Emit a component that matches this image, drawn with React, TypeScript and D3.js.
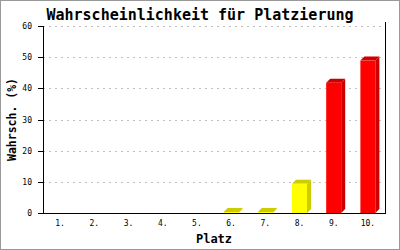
import React from "react";
import * as d3 from "d3";

const categories = ["1.", "2.", "3.", "4.", "5.", "6.", "7.", "8.", "9.", "10."];
const values = [0, 0, 0, 0, 0, 0.3, 0.3, 9.4, 41.8, 48.9];
const barColors = ["#ffff00", "#ffff00", "#ffff00", "#ffff00", "#ffff00", "#ffff00", "#ffff00", "#ffff00", "#ff0000", "#ff0000"];
const darkColors = ["#cccc00", "#cccc00", "#cccc00", "#cccc00", "#cccc00", "#cccc00", "#cccc00", "#cccc00", "#cc0000", "#cc0000"];
const yTicks = [0, 10, 20, 30, 40, 50, 60];
const title = "Wahrscheinlichkeit für Platzierung";
const yLabel = "Wahrsch. (%)";
const xLabel = "Platz";

const W = 400, H = 250;
const left = 43, right = 385, top = 26, bottom = 213;
const depth = 4;
const mono = "'DejaVu Sans Mono', monospace";

export default function App() {
  const x = d3.scaleBand<string>().domain(categories).range([left, right]).paddingInner(0).paddingOuter(0);
  const y = d3.scaleLinear().domain([0, 60]).range([bottom, top]);
  const bw = 15;

  return (
    <div style={{ position: "fixed", left: 0, top: 0 }}>
      <svg width={W} height={H} style={{ display: "block", background: "#fff" }}>
        <rect x={0.5} y={0.5} width={W - 1} height={H - 1} fill="#fff" stroke="#999" strokeWidth={1} />
        <text x={200} y={20} textAnchor="middle" fontFamily={mono} fontWeight="bold" fontSize={15}>{title}</text>
        {yTicks.filter(t => t > 0).map(t => (
          <line key={"g" + t} x1={left} x2={right} y1={Math.round(y(t)) + 0.5} y2={Math.round(y(t)) + 0.5}
            stroke="#c0c0c0" strokeDasharray="2,4" />
        ))}
        {categories.map((c, i) => {
          const v = values[i];
          if (v <= 0) return null;
          const cx = (x(c) as number) + x.bandwidth() / 2;
          const x0 = cx - bw / 2, x1 = cx + bw / 2;
          const yt = y(v), yb = y(0);
          return (
            <g key={c}>
              <polygon points={`${x1},${yb} ${x1 + depth},${yb - depth} ${x1 + depth},${yt - depth} ${x1},${yt}`} fill={darkColors[i]} />
              <polygon points={`${x0},${yt} ${x0 + depth},${yt - depth} ${x1 + depth},${yt - depth} ${x1},${yt}`} fill={darkColors[i]} />
              <rect x={x0} y={yt} width={bw} height={yb - yt} fill={barColors[i]} />
            </g>
          );
        })}
        <line x1={left + 0.5} x2={left + 0.5} y1={top} y2={bottom + 0.5} stroke="#000" />
        <line x1={right + 0.5} x2={right + 0.5} y1={top - 4} y2={bottom + 0.5} stroke="#000" />
        <line x1={left} x2={right + 1} y1={bottom + 0.5} y2={bottom + 0.5} stroke="#000" />
        {yTicks.map(t => (
          <g key={"t" + t}>
            <line x1={38} x2={left} y1={Math.round(y(t)) + 0.5} y2={Math.round(y(t)) + 0.5} stroke="#000" />
            <text x={32} y={y(t) + 3} textAnchor="end" fontFamily={mono} fontSize={8}>{t}</text>
          </g>
        ))}
        {categories.map(c => (
          <text key={"x" + c} x={(x(c) as number) + x.bandwidth() / 2} y={226} textAnchor="middle" fontFamily={mono} fontSize={8}>{c}</text>
        ))}
        <text x={(left + right) / 2} y={243} textAnchor="middle" fontFamily={mono} fontWeight="bold" fontSize={12}>{xLabel}</text>
        <text transform={`translate(16,${(top + bottom) / 2}) rotate(-90)`} textAnchor="middle" fontFamily={mono} fontWeight="bold" fontSize={11.5}>{yLabel}</text>
      </svg>
    </div>
  );
}
